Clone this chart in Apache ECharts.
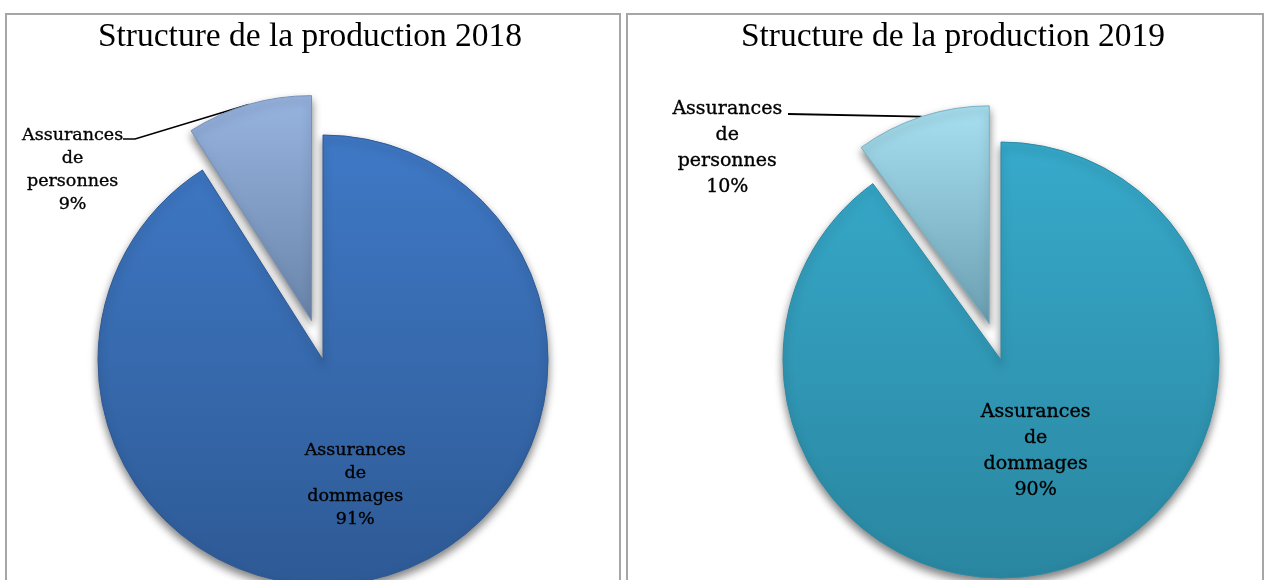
<!DOCTYPE html>
<html>
<head>
<meta charset="utf-8">
<script src="https://cdn.jsdelivr.net/npm/echarts@6/dist/echarts.min.js"></script>
<style>
  html, body { margin: 0; padding: 0; background: #fff; }
  #chart { width: 1265px; height: 580px; }
</style>
</head>
<body>
<div id="chart"></div>
<script>
// catégories et parts (%)
var categories = ['Assurances de dommages', 'Assurances de personnes'];
var years = ['2018', '2019'];
var values2018 = [91, 9];
var values2019 = [90, 10];

var chart = echarts.init(document.getElementById('chart'));

function grad(top, bottom) {
    return new echarts.graphic.LinearGradient(0, 0, 0, 1, [
        { offset: 0, color: top },
        { offset: 1, color: bottom }
    ]);
}

// texte des étiquettes : un mot par ligne + pourcentage
function labelText(p) {
    return p.name.split(' ').join('\n') + '\n' + p.percent + '%';
}

var serifFont = 'DejaVu Serif';

function buildData(values, colors) {
    return categories.map(function (name, i) {
        return {
            name: name,
            value: values[i],
            selected: i === 1,
            itemStyle: {
                color: grad(colors[i][0], colors[i][1]),
                borderColor: colors[i][2],
                borderWidth: 1
            },
            label: i === 1 ? { position: 'outside' } : { position: 'inside' },
            labelLine: { show: i === 1 }
        };
    });
}

// les points du trait de rappel sont dans le repère du secteur décalé :
// on retire le décalage de sélection pour viser des points de l'écran
function leader(p, center, offset, pts) {
    var s = p.labelLinePoints[0];
    var dx = s[0] - center[0], dy = s[1] - center[1];
    var len = Math.sqrt(dx * dx + dy * dy);
    var ox = dx / len * offset, oy = dy / len * offset;
    return [s].concat(pts.map(function (q) { return [q[0] - ox, q[1] - oy]; }));
}

var titleStyle = { fontFamily: 'Liberation Serif', fontSize: 33.5, fontWeight: 'normal', color: '#000' };
var center2018 = [323, 360], center2019 = [1001, 360];
var shadow = { shadowBlur: 9, shadowColor: 'rgba(0,0,0,0.5)', shadowOffsetX: 0, shadowOffsetY: 5 };

var option = {
    animation: false,
    title: [{
        text: 'Structure de la production ' + years[0],
        left: 305, top: 15, textAlign: 'center', textStyle: titleStyle
    }, {
        text: 'Structure de la production ' + years[1],
        left: 948, top: 15, textAlign: 'center', textStyle: titleStyle
    }],
    graphic: [{
        type: 'rect', shape: { x: 6, y: 14, width: 614, height: 580 },
        style: { fill: 'none', stroke: '#a6a6a6', lineWidth: 2 }, z: -1
    }, {
        type: 'rect', shape: { x: 627, y: 14, width: 636, height: 580 },
        style: { fill: 'none', stroke: '#a6a6a6', lineWidth: 2 }, z: -1
    }],
    series: [{
        name: years[0],
        type: 'pie',
        center: center2018,
        radius: 225,
        startAngle: 90,
        clockwise: true,
        selectedMode: 'single',
        selectedOffset: 41,
        emphasis: { disabled: true },
        itemStyle: shadow,
        label: {
            formatter: labelText,
            fontFamily: serifFont, fontSize: 17.5, lineHeight: 23, color: '#000',
            textBorderColor: '#000', textBorderWidth: 0.35
        },
        labelLine: { lineStyle: { color: '#000', width: 1.6 }, smooth: false },
        labelLayout: function (p) {
            if (p.dataIndex === 1) {
                return {
                    dx: -137, dy: 80, align: 'center', verticalAlign: 'middle',
                    labelLinePoints: leader(p, center2018, 41, [[135, 139], [123, 139]])
                };
            }
            return { dy: 14 };
        },
        data: buildData(values2018, [
            ['#3f79c6', '#2e5a95', '#2d5a96'],
            ['#97b4e0', '#6a85aa', '#7690b8']
        ])
    }, {
        name: years[1],
        type: 'pie',
        center: center2019,
        radius: 218,
        startAngle: 90,
        clockwise: true,
        selectedMode: 'single',
        selectedOffset: 38,
        emphasis: { disabled: true },
        itemStyle: shadow,
        label: {
            formatter: labelText,
            fontFamily: serifFont, fontSize: 19, lineHeight: 26, color: '#000',
            textBorderColor: '#000', textBorderWidth: 0.35
        },
        labelLine: { lineStyle: { color: '#000', width: 1.8 }, smooth: false },
        labelLayout: function (p) {
            if (p.dataIndex === 1) {
                return {
                    dx: -155, dy: 46, align: 'center', verticalAlign: 'middle',
                    labelLinePoints: leader(p, center2019, 38, [[788, 114]])
                };
            }
            return { dy: -15 };
        },
        data: buildData(values2019, [
            ['#37aacb', '#2a86a0', '#2a8aa5'],
            ['#a8e0f1', '#6b9fb1', '#78b2c4']
        ])
    }]
};

chart.setOption(option);
</script>
</body>
</html>
